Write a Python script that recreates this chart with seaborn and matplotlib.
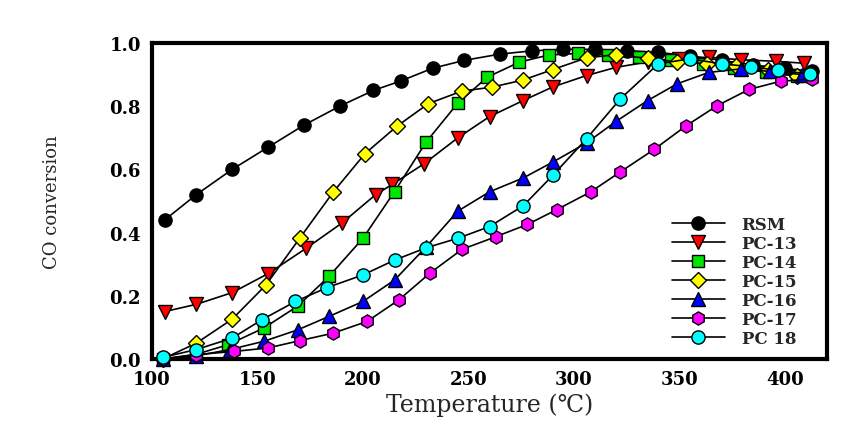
import matplotlib
matplotlib.use("Agg")
import matplotlib.pyplot as plt
import seaborn as sns

# CO conversion vs temperature
rsm_t = [106, 121, 138, 155, 172, 189, 205, 218, 233, 248, 265, 280, 295, 310, 325, 340, 355, 370, 385, 400, 413]
rsm_v = [0.44, 0.52, 0.60, 0.67, 0.74, 0.80, 0.85, 0.88, 0.92, 0.945, 0.965, 0.975, 0.98, 0.98, 0.976, 0.97,
         0.96, 0.945, 0.93, 0.92, 0.91]

pc13_t = [106, 121, 138, 155, 173, 190, 206, 214, 229, 245, 260, 276, 290, 306, 320, 335, 350, 364, 379, 396, 409]
pc13_v = [0.15, 0.173, 0.21, 0.27, 0.35, 0.43, 0.52, 0.553, 0.618, 0.70, 0.767, 0.818, 0.861, 0.897, 0.923,
          0.94, 0.95, 0.955, 0.947, 0.942, 0.936]

pc14_t = [105, 121, 136, 153, 169, 184, 200, 215, 230, 245, 259, 274, 288, 302, 316, 331, 346, 361, 376, 391, 406]
pc14_v = [0.0, 0.015, 0.045, 0.098, 0.167, 0.262, 0.382, 0.53, 0.687, 0.81, 0.892, 0.939, 0.962, 0.967, 0.962,
          0.955, 0.945, 0.935, 0.922, 0.908, 0.895]

pc15_t = [105, 121, 138, 154, 170, 186, 201, 216, 231, 247, 261, 276, 290, 306, 320, 335, 349, 363, 377, 392, 406]
pc15_v = [0.0, 0.05, 0.126, 0.234, 0.382, 0.529, 0.65, 0.736, 0.808, 0.848, 0.86, 0.883, 0.916, 0.953, 0.963,
          0.951, 0.94, 0.935, 0.928, 0.915, 0.897]

pc16_t = [105, 121, 137, 153, 169, 184, 200, 215, 230, 245, 260, 276, 290, 306, 320, 335, 349, 364, 379, 393, 408]
pc16_v = [0.0, 0.01, 0.03, 0.056, 0.092, 0.135, 0.182, 0.25, 0.355, 0.468, 0.529, 0.573, 0.623, 0.684, 0.752,
          0.818, 0.871, 0.907, 0.918, 0.91, 0.9]

pc17_t = [105, 121, 139, 155, 170, 186, 202, 217, 232, 247, 263, 278, 292, 308, 322, 338, 353, 368, 383, 398, 413]
pc17_v = [0.0, 0.014, 0.024, 0.035, 0.058, 0.082, 0.119, 0.187, 0.273, 0.347, 0.387, 0.426, 0.473, 0.529,
          0.592, 0.663, 0.737, 0.802, 0.853, 0.879, 0.886]

pc18_t = [105, 121, 138, 152, 168, 183, 200, 215, 230, 245, 260, 276, 290, 306, 322, 340, 355, 370, 384, 397, 412]
pc18_v = [0.005, 0.03, 0.066, 0.124, 0.182, 0.226, 0.266, 0.313, 0.352, 0.382, 0.419, 0.485, 0.581, 0.697,
          0.823, 0.934, 0.95, 0.934, 0.925, 0.913, 0.902]

series_names = ["RSM", "PC-13", "PC-14", "PC-15", "PC-16", "PC-17", "PC 18"]
series_t = [rsm_t, pc13_t, pc14_t, pc15_t, pc16_t, pc17_t, pc18_t]
series_v = [rsm_v, pc13_v, pc14_v, pc15_v, pc16_v, pc17_v, pc18_v]
markers = ["o", "v", "s", "D", "^", "h", "o"]
fills = ["#000000", "#ff0000", "#00e600", "#ffff00", "#0000ff", "#ff00ff", "#00ffff"]
msizes = [9.5, 9.5, 8.5, 8.5, 9.5, 9.5, 9.5]

x_ticks = [100, 150, 200, 250, 300, 350, 400]
y_ticks = [0.0, 0.2, 0.4, 0.6, 0.8, 1.0]

sns.set_style("white")
plt.rcParams["font.family"] = ["DejaVu Serif", "DejaVu Sans"]

fig = plt.figure(figsize=(8.5, 4.31), dpi=100)
ax = fig.add_axes([152 / 850, 1 - 360 / 431, 675 / 850, 316 / 431])

for name, t, v, m, c, ms in zip(series_names, series_t, series_v, markers, fills, msizes):
    sns.lineplot(x=t, y=v, ax=ax, color="black", linewidth=1.2, marker=m,
                 markerfacecolor=c, markeredgecolor="black", markeredgewidth=1.0,
                 markersize=ms, label=name, clip_on=False, zorder=3)

ax.set_xlim(100, 420)
ax.set_ylim(0, 1.0)
ax.set_xticks(x_ticks)
ax.set_yticks(y_ticks)
ax.set_xticklabels([str(t) for t in x_ticks], fontsize=13, fontweight="bold")
ax.set_yticklabels([f"{t:.1f}" for t in y_ticks], fontsize=13, fontweight="bold")
ax.tick_params(direction="in", length=4, width=2, pad=8, colors="black")

for s in ax.spines.values():
    s.set_linewidth(3)
    s.set_color("black")
    s.set_visible(True)

ax.set_xlabel("Temperature (℃)", fontsize=17, labelpad=3)
ax.set_ylabel("CO conversion", fontsize=13, labelpad=35)

leg = ax.legend(loc="upper left", bbox_to_anchor=(0.77, 0.452), frameon=False,
                prop={"size": 12, "weight": "bold"}, handlelength=3.2,
                handletextpad=1.0, labelspacing=0.12, borderpad=0, borderaxespad=0)

fig.savefig("out.png", dpi=100)
